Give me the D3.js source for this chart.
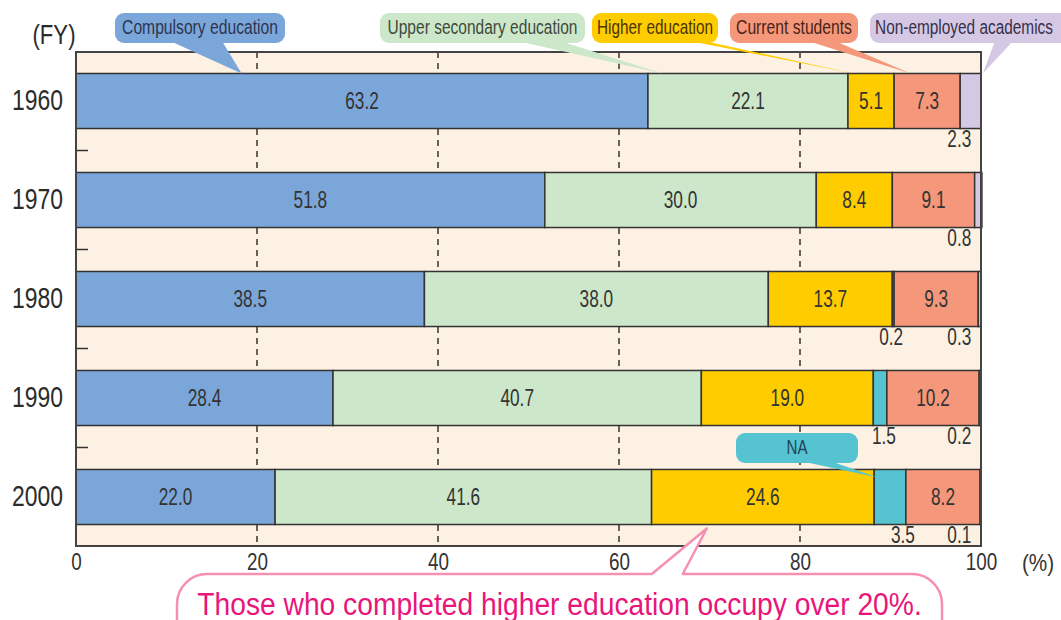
<!DOCTYPE html>
<html>
<head>
<meta charset="utf-8">
<script src="https://cdn.jsdelivr.net/npm/d3@7"></script>
<style>
  html, body { margin: 0; padding: 0; background: #fff; }
  svg { display: block; }
  text { font-family: 'Liberation Sans', Arial, sans-serif; }
</style>
</head>
<body>
<svg width="1061" height="620"></svg>
<script>
// Final education of new employees by fiscal year (%)
const years = ['1960', '1970', '1980', '1990', '2000']
const categories = ['Compulsory education', 'Upper secondary education', 'Higher education',
  'NA', 'Current students', 'Non-employed academics']
const compulsory = [63.2, 51.8, 38.5, 28.4, 22.0]
const upperSecondary = [22.1, 30.0, 38.0, 40.7, 41.6]
const higher = [5.1, 8.4, 13.7, 19.0, 24.6]
const notAvailable = [0, 0, 0.2, 1.5, 3.5]
const currentStudents = [7.3, 9.1, 9.3, 10.2, 8.2]
const nonEmployed = [2.3, 0.8, 0.3, 0.2, 0.1]
const xTicks = [0, 20, 40, 60, 80, 100]
const colors = ['#7ba6da', '#cde7cb', '#ffcc00', '#55c4d0', '#f5977a', '#d5c8e4']
const note = 'Those who completed higher education occupy over 20%.'

const series = [compulsory, upperSecondary, higher, notAvailable, currentStudents, nonEmployed]
const rows = years.map((year, i) => {
  const row = { year }
  categories.forEach((c, j) => { row[c] = series[j][i] })
  return row
})

const svg = d3.select('svg')
const plot = { left: 76, right: 981, top: 52, bottom: 546 }
const narrow = 0.75 // the source uses a condensed face

const x = d3.scaleLinear().domain([0, 100]).range([plot.left, plot.right])
const y = d3.scaleBand()
  .domain(years)
  .range([plot.top, plot.bottom])
  .paddingInner(0.444)
  .paddingOuter(0.217)
const color = d3.scaleOrdinal().domain(categories).range(colors)

// condensed text helper
const label = (g, tx, ty, str, size, fill, anchor = 'middle', sx = narrow) =>
  g.append('text')
    .attr('transform', `translate(${tx},${ty}) scale(${sx},1)`)
    .attr('text-anchor', anchor)
    .attr('font-size', size)
    .attr('fill', fill)
    .text(str)

// text squeezed to a given width, centred on cx
const fitted = (g, cx, ty, str, size, fill, width) => {
  const t = g.append('text')
    .attr('text-anchor', 'middle')
    .attr('font-size', size)
    .attr('fill', fill)
    .text(str)
  const sx = width / t.node().getComputedTextLength()
  t.attr('transform', `translate(${cx},${ty}) scale(${sx},1)`)
  return t
}

// plot background
svg.append('rect')
  .attr('x', plot.left).attr('y', plot.top)
  .attr('width', plot.right - plot.left).attr('height', plot.bottom - plot.top)
  .attr('fill', '#fdf1e3')

// dashed grid
svg.append('g')
  .selectAll('line')
  .data(xTicks.filter(d => d > 0 && d < 100))
  .join('line')
  .attr('x1', d => x(d)).attr('x2', d => x(d))
  .attr('y1', plot.top).attr('y2', plot.bottom)
  .attr('stroke', '#333')
  .attr('stroke-width', 1.5)
  .attr('stroke-dasharray', '6,5')

// short ticks between the rows
svg.append('g')
  .selectAll('line')
  .data(years.slice(1))
  .join('line')
  .attr('x1', plot.left).attr('x2', plot.left + 12)
  .attr('y1', d => y(d) - y.step() * y.paddingInner() / 2)
  .attr('y2', d => y(d) - y.step() * y.paddingInner() / 2)
  .attr('stroke', '#333')
  .attr('stroke-width', 1.5)

// stacked bars
const stack = d3.stack().keys(categories)(rows)
const layers = svg.append('g')
  .selectAll('g')
  .data(stack)
  .join('g')
  .attr('fill', d => color(d.key))

layers.selectAll('rect')
  .data(d => d.filter(s => s[1] - s[0] > 0))
  .join('rect')
  .attr('x', d => x(d[0]))
  .attr('y', d => y(d.data.year))
  .attr('width', d => x(d[1]) - x(d[0]))
  .attr('height', y.bandwidth())
  .attr('stroke', '#333')
  .attr('stroke-width', 1.5)

// value labels: inside wide segments, under the bar for thin ones
const valueGroup = svg.append('g')
stack.forEach(layer => {
  layer.forEach(s => {
    const v = s.data[layer.key]
    if (v <= 0) return
    const inside = v >= 4
    const lx = inside ? x((s[0] + s[1]) / 2) : Math.min(x(s[1]) - 3, x(97.6))
    const ly = inside ? y(s.data.year) + y.bandwidth() / 2 + 8 : y(s.data.year) + y.bandwidth() + 18
    label(valueGroup, lx, ly, v.toFixed(1), 23, '#333')
  })
})

// frame
svg.append('rect')
  .attr('x', plot.left).attr('y', plot.top)
  .attr('width', plot.right - plot.left).attr('height', plot.bottom - plot.top)
  .attr('fill', 'none')
  .attr('stroke', '#444')
  .attr('stroke-width', 2)

// axes
const xAxis = svg.append('g')
  .attr('transform', `translate(0,${plot.bottom})`)
  .call(d3.axisBottom(x).tickValues(xTicks).tickSize(0).tickPadding(8))
xAxis.select('.domain').remove()
xAxis.attr('font-family', null)
xAxis.selectAll('text')
  .attr('font-size', 23)
  .attr('fill', '#333')
  .attr('transform', 'scale(0.82,1)')

label(svg, 1038, 571, '(%)', 23, '#333', 'middle', 0.9)

const yAxis = svg.append('g')
  .attr('transform', `translate(${plot.left},0)`)
  .call(d3.axisLeft(y).tickSize(0).tickPadding(13 / 0.79))
yAxis.select('.domain').remove()
yAxis.attr('font-family', null)
yAxis.selectAll('text')
  .attr('font-size', 29)
  .attr('fill', '#2b2b2b')
  .attr('dy', '0.3em')
  .attr('transform', 'scale(0.79,1)')

label(svg, 54, 44, '(FY)', 27, '#2b2b2b', 'middle', 0.82)

// legend callouts pointing at the bars
const callouts = [
  { key: 'Compulsory education', x0: 115, x1: 285, y0: 13, base: [170, 222], year: '1960', at: 18.3, dy: 0, width: 156, ink: '#2c3550' },
  { key: 'Upper secondary education', x0: 380, x1: 585, y0: 13, base: [517, 560], year: '1960', at: 64.8, dy: 0, width: 190, ink: '#3f4a3a' },
  { key: 'Higher education', x0: 592, x1: 718, y0: 13, base: [690, 704], year: '1960', at: 85.9, dy: 0, width: 116, ink: '#4a3500' },
  { key: 'Current students', x0: 730, x1: 858, y0: 13, base: [808, 835], year: '1960', at: 92.2, dy: 0, width: 116, ink: '#4a2418' },
  { key: 'Non-employed academics', x0: 870, x1: 1075, y0: 13, base: [995, 1013], year: '1960', at: 100.2, dy: 0, width: 178, ink: '#35304a' },
  { key: 'NA', x0: 736, x1: 858, y0: 433, base: [800, 830], year: '2000', at: 88.6, dy: 8, width: 21, ink: '#24435a' }
]
const boxH = 30
const cg = svg.append('g')
callouts.forEach(c => {
  const tx = x(c.at)
  const ty = y(c.year) + c.dy
  cg.append('path')
    .attr('d', `M${c.base[0]},${c.y0 + boxH - 2}L${tx},${ty}L${c.base[1]},${c.y0 + boxH - 2}Z`)
    .attr('fill', color(c.key))
  cg.append('rect')
    .attr('x', c.x0).attr('y', c.y0)
    .attr('width', c.x1 - c.x0).attr('height', boxH)
    .attr('rx', 9)
    .attr('fill', color(c.key))
  const cx = c.x1 <= 1061 ? (c.x0 + c.x1) / 2 : c.x0 + 5 + c.width / 2
  fitted(cg, cx, c.y0 + 21, c.key, 21, c.ink, c.width)
})

// note balloon below the axis
const tipX = x(69.7)
const tipY = y('2000') + y.bandwidth() + 4
const boxTop = 574, boxL = 177, boxR = 942, rad = 30
svg.append('path')
  .attr('d', `M${boxL + rad},${boxTop}L${tipX - 55},${boxTop}L${tipX},${tipY}L${tipX - 24},${boxTop}` +
    `L${boxR - rad},${boxTop}A${rad},${rad} 0 0 1 ${boxR},${boxTop + rad}L${boxR},${boxTop + 90}` +
    `L${boxL},${boxTop + 90}L${boxL},${boxTop + rad}A${rad},${rad} 0 0 1 ${boxL + rad},${boxTop}Z`)
  .attr('fill', '#fff')
  .attr('stroke', '#f590b0')
  .attr('stroke-width', 2.5)
  .attr('stroke-linejoin', 'round')

fitted(svg, 197 + 725 / 2, 615, note, 31, '#e8157b', 725)
</script>
</body>
</html>
